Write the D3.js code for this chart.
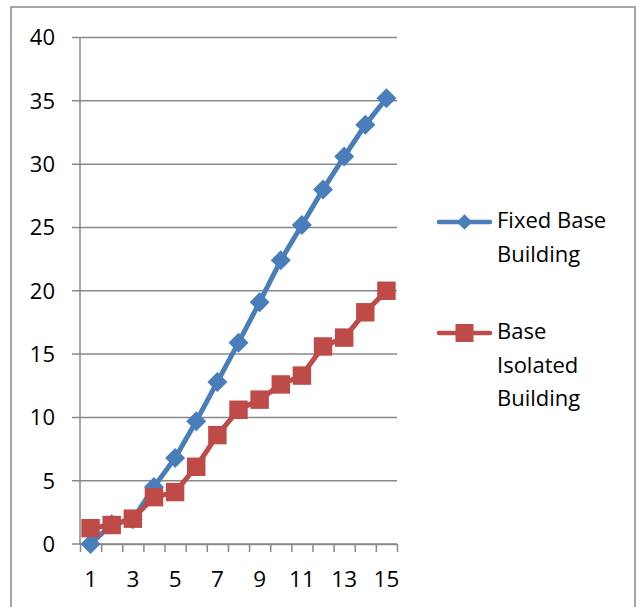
<!DOCTYPE html>
<html>
<head>
<meta charset="utf-8">
<script src="https://cdn.jsdelivr.net/npm/d3@7"></script>
<style>
  html, body { margin: 0; padding: 0; background: #fff; }
  svg { display: block; font-family: "Open Sans", "Liberation Sans", sans-serif; }
</style>
</head>
<body>
<svg id="chart" width="641" height="607"></svg>
<script>
// Storey numbers along the x axis
const categories = [1, 2, 3, 4, 5, 6, 7, 8, 9, 10, 11, 12, 13, 14, 15];
// Labelled category ticks
const xTickLabels = [1, 3, 5, 7, 9, 11, 13, 15];
// Value-axis ticks
const yTicks = [0, 5, 10, 15, 20, 25, 30, 35, 40];

const fixedBase = [0, 1.55, 1.95, 4.5, 6.8, 9.7, 12.8, 15.9, 19.1, 22.4, 25.2, 28.0, 30.6, 33.1, 35.2];
const baseIsolated = [1.25, 1.5, 2.0, 3.7, 4.1, 6.1, 8.6, 10.6, 11.4, 12.6, 13.3, 15.6, 16.3, 18.3, 20.0];

const seriesNames = [["Fixed Base", "Building"], ["Base", "Isolated", "Building"]];
const seriesColors = ["#4A7EBB", "#BE4B48"];

const svg = d3.select("#chart");
const axisColor = "#898989";

// Outer chart frame
svg.append("rect")
  .attr("x", 11).attr("y", 7)
  .attr("width", 624).attr("height", 620)
  .attr("fill", "none").attr("stroke", axisColor).attr("stroke-width", 1.5);

const plotLeft = 80, plotRight = 397, plotTop = 37.5, plotBottom = 544;

const x = d3.scaleLinear().domain([0.5, categories.length + 0.5]).range([plotLeft, plotRight]);
const y = d3.scaleLinear().domain([0, 40]).range([plotBottom, plotTop]);

// Horizontal gridlines (extend over the y tick marks)
svg.append("g").selectAll("line")
  .data(yTicks)
  .join("line")
  .attr("x1", plotLeft - 8).attr("x2", plotRight)
  .attr("y1", d => y(d)).attr("y2", d => y(d))
  .attr("stroke", axisColor).attr("stroke-width", 1.5);

// Y axis line
svg.append("line")
  .attr("x1", plotLeft).attr("x2", plotLeft)
  .attr("y1", plotTop).attr("y2", plotBottom)
  .attr("stroke", axisColor).attr("stroke-width", 1.5);

// Y tick labels
svg.append("g").selectAll("text")
  .data(yTicks)
  .join("text")
  .attr("x", 55).attr("y", d => y(d))
  .attr("dy", "0.36em")
  .attr("text-anchor", "end")
  .attr("font-size", 22)
  .attr("fill", "#000")
  .text(d => d);

// X axis: tick marks between categories
const xAxis = d3.axisBottom(x)
  .tickValues(d3.range(0.5, categories.length + 1, 1))
  .tickSizeInner(8).tickSizeOuter(0)
  .tickFormat("");
const gx = svg.append("g").attr("transform", `translate(0,${plotBottom})`).call(xAxis);
gx.select(".domain").attr("stroke", axisColor).attr("stroke-width", 1.5);
gx.selectAll(".tick line").attr("stroke", axisColor).attr("stroke-width", 1.5);

// X tick labels
svg.append("g").selectAll("text")
  .data(xTickLabels)
  .join("text")
  .attr("x", d => x(d)).attr("y", 587)
  .attr("text-anchor", "middle")
  .attr("font-size", 22.5)
  .attr("fill", "#000")
  .text(d => d);

const line = d3.line().x((d, i) => x(categories[i])).y(d => y(d));

function drawSeries(values, color, shape) {
  const g = svg.append("g");
  g.append("path")
    .datum(values)
    .attr("d", line)
    .attr("fill", "none")
    .attr("stroke", color)
    .attr("stroke-width", 5)
    .attr("stroke-linejoin", "round")
    .attr("stroke-linecap", "round");
  const sym = d3.symbol().type(d3.symbolSquare).size(shape === "diamond" ? 200 : 340);
  g.selectAll("path.m")
    .data(values)
    .join("path")
    .attr("class", "m")
    .attr("d", sym)
    .attr("transform", (d, i) => `translate(${x(categories[i])},${y(d)})` + (shape === "diamond" ? " rotate(45)" : ""))
    .attr("fill", color);
}

drawSeries(fixedBase, seriesColors[0], "diamond");
drawSeries(baseIsolated, seriesColors[1], "square");

// Legend
const legendItems = [
  { lines: seriesNames[0], color: seriesColors[0], shape: "diamond", y: 222 },
  { lines: seriesNames[1], color: seriesColors[1], shape: "square", y: 333 }
];
legendItems.forEach(item => {
  const g = svg.append("g");
  g.append("line")
    .attr("x1", 439).attr("x2", 490)
    .attr("y1", item.y).attr("y2", item.y)
    .attr("stroke", item.color).attr("stroke-width", 4.5)
    .attr("stroke-linecap", "round");
  const sym = d3.symbol().type(d3.symbolSquare).size(item.shape === "diamond" ? 120 : 324);
  g.append("path")
    .attr("d", sym)
    .attr("transform", `translate(464.5,${item.y})` + (item.shape === "diamond" ? " rotate(45)" : ""))
    .attr("fill", item.color);
  g.selectAll("text")
    .data(item.lines)
    .join("text")
    .attr("x", 497)
    .attr("y", (d, i) => item.y + 6 + i * 33.5)
    .attr("font-size", 22)
    .attr("fill", "#000")
    .text(d => d);
});
</script>
</body>
</html>
